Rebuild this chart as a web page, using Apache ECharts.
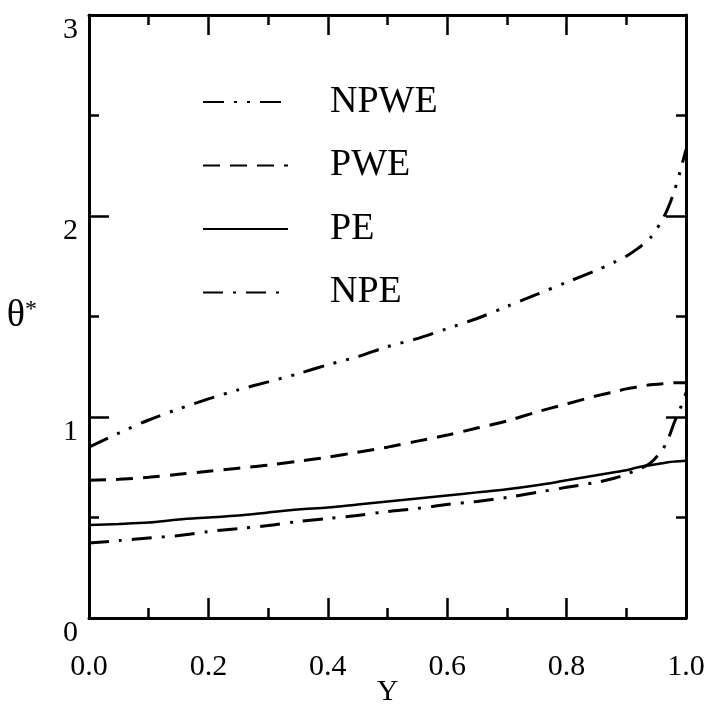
<!DOCTYPE html>
<html>
<head>
<meta charset="utf-8">
<script src="https://cdn.jsdelivr.net/npm/echarts@6/dist/echarts.min.js"></script>
<style>html,body{margin:0;padding:0;background:#fff;}#c{width:711px;height:706px;}</style>
</head>
<body>
<div id="c"></div>
<script>
const xs =   [0, 0.05, 0.1, 0.15, 0.2, 0.25, 0.3, 0.35, 0.4, 0.45, 0.5, 0.55, 0.6, 0.65, 0.7, 0.75, 0.8, 0.85, 0.88, 0.9, 0.92, 0.94, 0.96, 0.97, 0.98, 0.99, 1.0];
const npwe = [0.85, 0.92, 0.985, 1.04, 1.09, 1.135, 1.175, 1.215, 1.26, 1.30, 1.35, 1.39, 1.44, 1.49, 1.55, 1.61, 1.67, 1.73, 1.77, 1.80, 1.84, 1.89, 1.98, 2.04, 2.12, 2.22, 2.33];
const pwe =  [0.685, 0.69, 0.70, 0.715, 0.73, 0.745, 0.76, 0.78, 0.80, 0.825, 0.85, 0.88, 0.91, 0.945, 0.98, 1.025, 1.065, 1.105, 1.125, 1.14, 1.15, 1.16, 1.165, 1.168, 1.17, 1.17, 1.17];
const pe =   [0.463, 0.468, 0.475, 0.49, 0.50, 0.51, 0.525, 0.54, 0.55, 0.565, 0.58, 0.595, 0.61, 0.625, 0.64, 0.66, 0.685, 0.71, 0.725, 0.735, 0.75, 0.76, 0.77, 0.775, 0.778, 0.78, 0.782];
const npe =  [0.373, 0.385, 0.398, 0.41, 0.43, 0.445, 0.46, 0.48, 0.495, 0.51, 0.53, 0.545, 0.565, 0.58, 0.60, 0.625, 0.65, 0.675, 0.695, 0.715, 0.74, 0.77, 0.835, 0.89, 0.97, 1.04, 1.12];
const seriesNames = ['NPWE', 'PWE', 'PE', 'NPE'];
const xTicks = [0, 0.2, 0.4, 0.6, 0.8, 1.0];
const yTicks = [0, 1, 2, 3];

const FONT = 'Liberation Serif';
const pair = arr => xs.map((x, i) => [x, arr[i]]);

function xAxisCfg(pos, showLabel) {
  return {
    type: 'value', position: pos, min: 0, max: 1, interval: 0.2,
    axisLine: { show: true, onZero: false, lineStyle: { color: '#000', width: 3 } },
    axisTick: { show: true, inside: true, length: 20, lineStyle: { color: '#000', width: 2.5 } },
    minorTick: { show: true, splitNumber: 2, length: 10, lineStyle: { color: '#000', width: 2.5 } },
    splitLine: { show: false },
    axisLabel: {
      show: showLabel, margin: 34, fontSize: 30, fontFamily: FONT, color: '#000',
      formatter: v => xTicks.some(t => Math.abs(t - v) < 1e-9) ? v.toFixed(1) : ''
    },
    name: showLabel ? 'Y' : '', nameLocation: 'middle', nameGap: 60, nameMoveOverlap: false,
    nameTextStyle: { fontSize: 30, fontFamily: FONT, color: '#000', verticalAlign: 'top', lineHeight: 28 }
  };
}
function yAxisCfg(pos, showLabel) {
  return {
    type: 'value', position: pos, min: 0, max: 3, interval: 1,
    axisLine: { show: true, onZero: false, lineStyle: { color: '#000', width: 3 } },
    axisTick: { show: true, inside: true, length: 20, lineStyle: { color: '#000', width: 2.5 } },
    minorTick: { show: true, splitNumber: 2, length: 10, lineStyle: { color: '#000', width: 2.5 } },
    splitLine: { show: false },
    axisLabel: {
      show: showLabel, margin: 11, fontSize: 30, fontFamily: FONT, color: '#000',
      verticalAlign: 'top',
      formatter: v => yTicks.includes(v) ? String(v) : ''
    },
    name: showLabel ? '{a|θ}{b|*}' : '', nameLocation: 'middle', nameRotate: 0, nameGap: 52,
    nameMoveOverlap: false,
    nameTextStyle: {
      rich: {
        a: { fontSize: 38, fontFamily: FONT, color: '#000' },
        b: { fontSize: 24, fontFamily: FONT, color: '#000', verticalAlign: 'top', padding: [0, 0, 14, 0] }
      }
    }
  };
}

const styles = {
  NPWE: { type: [21, 10, 3, 10, 3, 10], width: 3 },
  PWE: { type: [17, 10], width: 3 },
  PE: { type: 'solid', width: 2.5 },
  NPE: { type: [20, 10, 3, 10], width: 3 }
};
const dataMap = { NPWE: npwe, PWE: pwe, PE: pe, NPE: npe };

const chart = echarts.init(document.getElementById('c'), null, { renderer: 'canvas' });
chart.setOption({
  animation: false,
  backgroundColor: '#fff',
  grid: { left: 89, right: 25, top: 15, bottom: 88, containLabel: false, outerBoundsMode: 'none' },
  xAxis: [xAxisCfg('bottom', true), xAxisCfg('top', false)],
  yAxis: [yAxisCfg('left', true), yAxisCfg('right', false)],
  legend: {
    orient: 'vertical', left: 202, top: 82, padding: 0,
    itemWidth: 85, itemHeight: 20, itemGap: 23.5,
    data: seriesNames,
    itemStyle: { opacity: 0 },
    textStyle: { fontSize: 38, fontFamily: FONT, color: '#000', lineHeight: 40, padding: [0, 0, 0, 37] }
  },
  series: seriesNames.map(n => ({
    name: n, type: 'line', data: pair(dataMap[n]), showSymbol: false, symbol: 'none',
    smooth: 0.3,
    lineStyle: { color: '#000', type: styles[n].type, width: styles[n].width },
    itemStyle: { color: '#000' }
  }))
});
</script>
</body>
</html>
